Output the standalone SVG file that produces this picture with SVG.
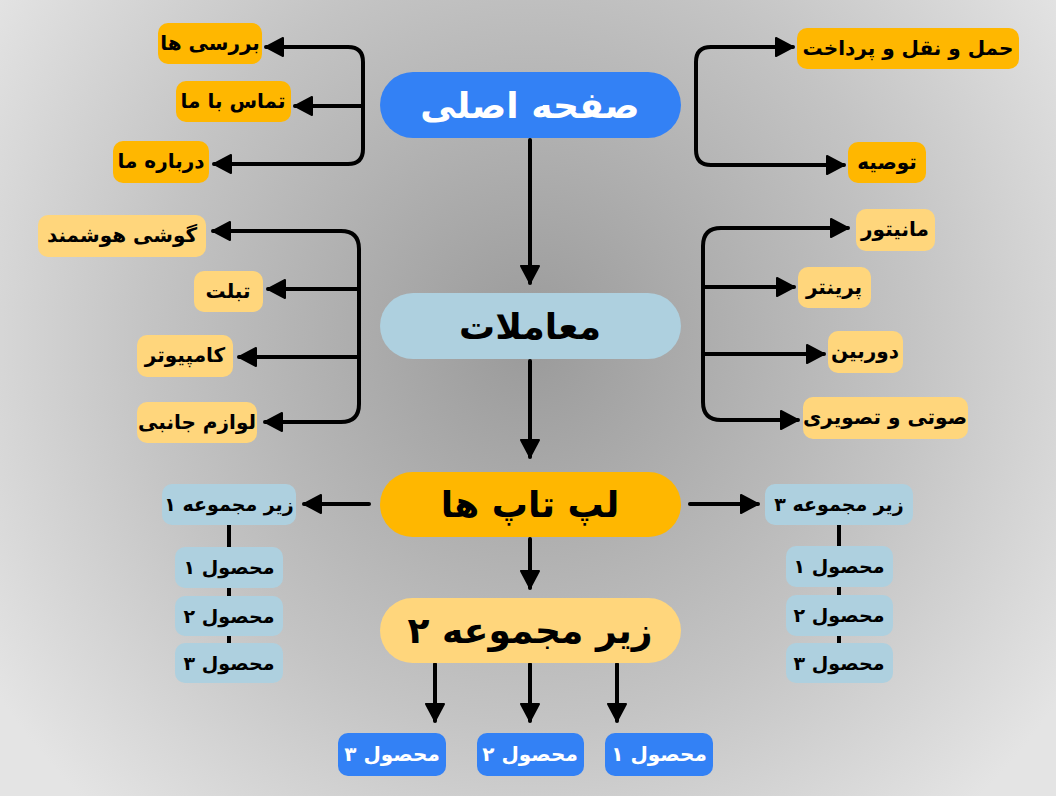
<svg xmlns="http://www.w3.org/2000/svg" width="1056" height="796" viewBox="0 0 1056 796">
<defs>
<radialGradient id="bg" gradientUnits="userSpaceOnUse" cx="530" cy="340" r="640">
<stop offset="0" stop-color="#9a9a9a"/>
<stop offset="0.6" stop-color="#c4c4c4"/>
<stop offset="1" stop-color="#e4e4e4"/>
</radialGradient>
<marker id="ah" markerUnits="userSpaceOnUse" viewBox="0 0 22 22" refX="19" refY="11" markerWidth="22" markerHeight="22" orient="auto">
<path d="M2,2 L19,11 L2,20 Z" fill="#000" stroke="#000" stroke-width="2" stroke-linejoin="round"/>
</marker>
<style>
.c{fill:none;stroke:#000;stroke-width:4;stroke-linecap:round}
.a{marker-end:url(#ah)}
.t{font-family:"DejaVu Sans","Noto Sans",sans-serif;font-weight:bold;text-anchor:middle}
.s{font-size:20px;fill:#000}
.ss{font-size:19px;fill:#000}
.b{font-size:36px}
.w{fill:#fff}
.k{fill:#000}
.blue{fill:#3381F5}
.lb{fill:#AED0DF}
.or{fill:#FFB700}
.lo{fill:#FFD67C}
</style>
</defs>
<rect x="0" y="0" width="1056" height="796" fill="url(#bg)"/>

<g id="connectors">
<path class="c a" d="M363,106 V62 Q363,47 348,47 H266"/>
<path class="c a" d="M363,106 H295"/>
<path class="c a" d="M363,106 V149 Q363,164 348,164 H214"/>
<path class="c a" d="M696,106 V62 Q696,47 711,47 H793"/>
<path class="c a" d="M696,106 V150 Q696,165 711,165 H844"/>
<path class="c a" d="M359,326 V249 Q359,231 341,231 H213"/>
<path class="c a" d="M359,289 H268"/>
<path class="c a" d="M359,357 H239"/>
<path class="c a" d="M359,326 V404 Q359,422 341,422 H265"/>
<path class="c a" d="M703,324 V246 Q703,228 721,228 H848"/>
<path class="c a" d="M703,287 H794"/>
<path class="c a" d="M703,354 H824"/>
<path class="c a" d="M703,324 V402 Q703,420 721,420 H798"/>
<path class="c a" d="M530,140 V283"/>
<path class="c a" d="M530,361 V457"/>
<path class="c a" d="M530,539 V588"/>
<path class="c a" d="M369,504 H304"/>
<path class="c a" d="M690,504 H758"/>
<path class="c a" d="M435,664 V721"/>
<path class="c a" d="M530,664 V721"/>
<path class="c a" d="M617,664 V721"/>
<path class="c" d="M229,524 V660"/>
<path class="c" d="M839,524 V660"/>
</g>

<g id="home"><rect class="blue" x="380" y="72" width="301" height="66" rx="33"/><text class="t b w" x="530" y="118">صفحه اصلی</text></g>
<g id="trade"><rect class="lb" x="380" y="293" width="301" height="66" rx="33"/><text class="t b k" x="530" y="339">معاملات</text></g>
<g id="laptops"><rect class="or" x="380" y="472" width="301" height="65" rx="32.5"/><text class="t b k" x="530" y="517">لپ تاپ ها</text></g>
<g id="sub2"><rect class="lo" x="380" y="598" width="301" height="65" rx="32.5"/><text class="t b k" x="530" y="643">زیر مجموعه ۲</text></g>

<g id="reviews"><rect class="or" x="158" y="23" width="104" height="41" rx="10"/><text class="t s" x="210" y="50">بررسی ها</text></g>
<g id="contact"><rect class="or" x="176" y="81" width="115" height="41" rx="10"/><text class="t s" x="233" y="108">تماس با ما</text></g>
<g id="about"><rect class="or" x="113" y="141" width="96" height="42" rx="10"/><text class="t s" x="161" y="168">درباره ما</text></g>
<g id="shipping"><rect class="or" x="797" y="28" width="222" height="41" rx="10"/><text class="t s" x="908" y="55">حمل و نقل و پرداخت</text></g>
<g id="recommend"><rect class="or" x="848" y="142" width="78" height="41" rx="10"/><text class="t s" x="887" y="169">توصیه</text></g>

<g id="phone"><rect class="lo" x="38" y="215" width="168" height="42" rx="10"/><text class="t s" x="122" y="242">گوشی هوشمند</text></g>
<g id="tablet"><rect class="lo" x="194" y="271" width="69" height="41" rx="10"/><text class="t s" x="228" y="298">تبلت</text></g>
<g id="computer"><rect class="lo" x="137" y="335" width="96" height="42" rx="10"/><text class="t s" x="185" y="362">کامپیوتر</text></g>
<g id="accessories"><rect class="lo" x="137" y="402" width="120" height="41" rx="10"/><text class="t s" x="197" y="429">لوازم جانبی</text></g>

<g id="monitor"><rect class="lo" x="856" y="209" width="79" height="42" rx="10"/><text class="t s" x="895" y="236">مانیتور</text></g>
<g id="printer"><rect class="lo" x="798" y="267" width="73" height="41" rx="10"/><text class="t s" x="834" y="294">پرینتر</text></g>
<g id="camera"><rect class="lo" x="828" y="331" width="75" height="42" rx="10"/><text class="t s" x="865" y="358">دوربین</text></g>
<g id="av"><rect class="lo" x="803" y="397" width="165" height="42" rx="10"/><text class="t s" x="885" y="424">صوتی و تصویری</text></g>

<g id="sub1"><rect class="lb" x="162" y="484" width="134" height="41" rx="10"/><text class="t ss" x="229" y="511">زیر مجموعه ۱</text></g>
<g id="sub1-p1"><rect class="lb" x="175" y="547" width="108" height="41" rx="10"/><text class="t ss" x="229" y="574">محصول ۱</text></g>
<g id="sub1-p2"><rect class="lb" x="175" y="596" width="108" height="40" rx="10"/><text class="t ss" x="229" y="623">محصول ۲</text></g>
<g id="sub1-p3"><rect class="lb" x="175" y="643" width="108" height="40" rx="10"/><text class="t ss" x="229" y="670">محصول ۳</text></g>

<g id="sub3"><rect class="lb" x="765" y="484" width="148" height="41" rx="10"/><text class="t ss" x="839" y="511">زیر مجموعه ۳</text></g>
<g id="sub3-p1"><rect class="lb" x="786" y="546" width="107" height="41" rx="10"/><text class="t ss" x="839" y="573">محصول ۱</text></g>
<g id="sub3-p2"><rect class="lb" x="786" y="595" width="107" height="41" rx="10"/><text class="t ss" x="839" y="622">محصول ۲</text></g>
<g id="sub3-p3"><rect class="lb" x="786" y="643" width="107" height="40" rx="10"/><text class="t ss" x="839" y="670">محصول ۳</text></g>

<g id="sub2-p3"><rect class="blue" x="338" y="733" width="108" height="43" rx="10"/><text class="t s w" x="392" y="761">محصول ۳</text></g>
<g id="sub2-p2"><rect class="blue" x="477" y="733" width="107" height="43" rx="10"/><text class="t s w" x="530" y="761">محصول ۲</text></g>
<g id="sub2-p1"><rect class="blue" x="605" y="733" width="108" height="43" rx="10"/><text class="t s w" x="659" y="761">محصول ۱</text></g>
</svg>
